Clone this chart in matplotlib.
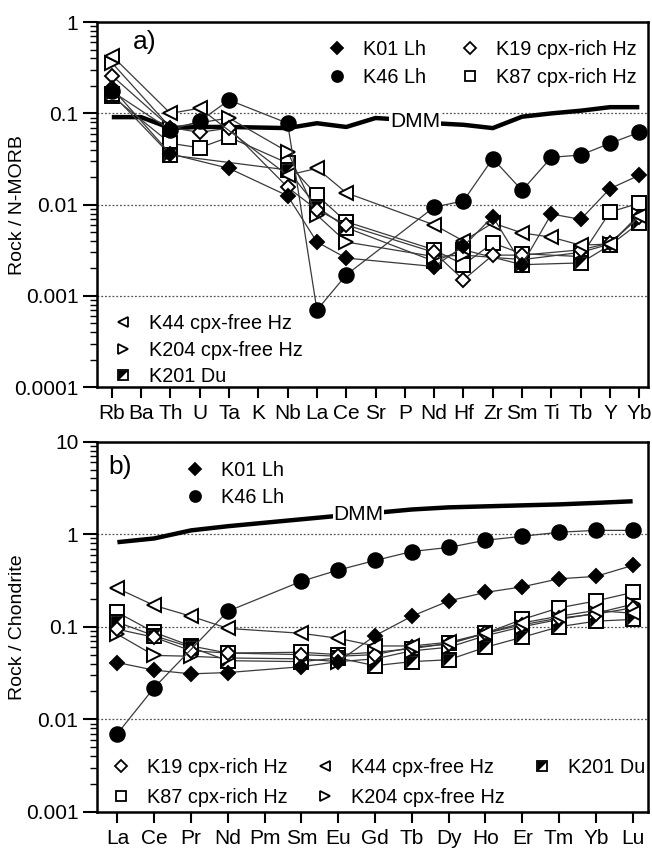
import numpy as np
import matplotlib
matplotlib.use('Agg')
import matplotlib.pyplot as plt
from matplotlib.lines import Line2D
from matplotlib.legend_handler import HandlerTuple

plt.rcParams['font.family'] = ['Liberation Sans', 'DejaVu Sans']

nan = np.nan

# a) N-MORB normalised
elems_a = ['Rb', 'Ba', 'Th', 'U', 'Ta', 'K', 'Nb', 'La', 'Ce', 'Sr', 'P',
           'Nd', 'Hf', 'Zr', 'Sm', 'Ti', 'Tb', 'Y', 'Yb']
k01_a = [0.19, nan, 0.036, nan, 0.025, nan, 0.0125, 0.0039, 0.0026, nan, nan,
         0.0021, 0.0035, 0.0074, 0.0022, 0.0079, 0.0069, 0.015, 0.021]
k46_a = [0.175, nan, 0.066, 0.082, 0.14, nan, 0.078, 0.0007, 0.0017, nan, nan,
         0.0094, 0.011, 0.032, 0.0143, 0.033, 0.035, 0.047, 0.062]
k19_a = [0.26, nan, 0.07, 0.062, 0.069, nan, 0.0155, 0.0088, 0.006, nan, nan,
         0.003, 0.0015, 0.0028, 0.0028, nan, 0.0032, 0.0038, 0.0073]
k87_a = [0.155, nan, 0.047, 0.042, 0.055, nan, 0.0285, 0.0127, 0.0065, nan, nan,
         0.0032, 0.0022, 0.0038, 0.0029, nan, 0.0027, 0.0083, 0.0104]
k44_a = [0.43, nan, 0.1, 0.114, nan, nan, 0.021, 0.025, 0.0135, nan, nan,
         0.006, 0.004, 0.0063, 0.0049, 0.0044, 0.0036, 0.0037, 0.0075]
k204_a = [0.36, nan, 0.07, nan, 0.089, nan, 0.038, 0.0077, 0.0039, nan, nan,
          0.0027, 0.0028, nan, 0.0025, nan, 0.003, 0.0037, 0.0078]
k201_a = [0.165, nan, 0.035, nan, nan, nan, 0.024, 0.0095, 0.0056, nan, nan,
          0.0024, 0.0032, nan, 0.0022, nan, 0.0023, 0.0036, 0.0063]
dmm_a = [0.091, 0.091, 0.069, 0.071, 0.071, 0.07, 0.069, 0.078, 0.071, 0.089,
         0.085, 0.078, 0.075, 0.069, 0.092, 0.10, 0.107, 0.117, 0.117]

# b) chondrite normalised REE
elems_b = ['La', 'Ce', 'Pr', 'Nd', 'Pm', 'Sm', 'Eu', 'Gd', 'Tb', 'Dy', 'Ho',
           'Er', 'Tm', 'Yb', 'Lu']
k01_b = [0.041, 0.034, 0.031, 0.032, nan, 0.037, 0.042, 0.08, 0.13, 0.19,
         0.235, 0.27, 0.33, 0.35, 0.46]
k46_b = [0.007, 0.022, nan, 0.147, nan, 0.31, 0.41, 0.52, 0.65, 0.72, 0.86,
         0.95, 1.05, 1.1, 1.1]
k19_b = [0.094, 0.077, 0.055, 0.052, nan, 0.05, 0.048, 0.05, 0.06, 0.065,
         0.085, 0.105, 0.124, 0.137, 0.16]
k87_b = [0.143, 0.087, 0.062, 0.052, nan, 0.053, 0.05, 0.053, 0.058, 0.066,
         0.085, 0.12, 0.16, 0.19, 0.235]
k44_b = [0.26, 0.17, 0.13, 0.096, nan, 0.085, 0.075, 0.062, 0.062, 0.068,
         0.085, 0.11, 0.13, 0.15, 0.14]
k204_b = [0.083, 0.049, 0.048, 0.046, nan, 0.045, 0.042, 0.045, 0.055, 0.06,
          0.08, 0.10, 0.12, 0.14, 0.175]
k201_b = [0.112, 0.08, 0.06, 0.043, nan, 0.042, 0.046, 0.038, 0.042, 0.044,
          0.06, 0.077, 0.10, 0.115, 0.12]
dmm_b = [0.82, 0.9, 1.1, 1.22, 1.33, 1.45, 1.58, 1.7, 1.85, 1.95, 2.0, 2.05,
         2.1, 2.18, 2.27]

LINE_C = '#3a3a3a'
MS = 10.5
FS = 15
# upper-left half triangle for the K201 symbol
HALF = [(-1, -1), (-1, 1), (1, 1), (-1, -1)]

STYLES = {
    'K01 Lh': dict(marker='D', ms=MS * 0.72, mfc='black', mec='black'),
    'K46 Lh': dict(marker='o', ms=MS, mfc='black', mec='black'),
    'K19 cpx-rich Hz': dict(marker='D', ms=MS * 0.72, mfc='white', mec='black'),
    'K87 cpx-rich Hz': dict(marker='s', ms=MS * 0.95, mfc='white', mec='black'),
    'K44 cpx-free Hz': dict(marker='<', ms=MS, mfc='white', mec='black'),
    'K204 cpx-free Hz': dict(marker='>', ms=MS, mfc='white', mec='black'),
    'K201 Du': dict(marker='s', ms=MS * 0.95, mfc='white', mec='black'),
}
TUPLE_MAP = {tuple: HandlerTuple(ndivide=1)}


def draw_series(ax, vals, name, z):
    x = np.arange(len(vals))
    v = np.array(vals, dtype=float)
    ok = ~np.isnan(v)
    st = STYLES[name]
    ax.plot(x[ok], v[ok], color=LINE_C, lw=0.9, mew=1.4, zorder=z, **st)
    if name == 'K201 Du':
        ax.plot(x[ok], v[ok], ls='none', marker=HALF, ms=st['ms'] * 0.92,
                mfc='black', mec='none', zorder=z + 0.1)


def handle(name):
    st = STYLES[name]
    h = Line2D([], [], ls='none', mew=1.3, **st)
    if name == 'K201 Du':
        tri = Line2D([], [], ls='none', marker=HALF, ms=st['ms'] * 0.92,
                     mfc='black', mec='none')
        return (h, tri)
    return h


def style_axis(ax, labels, ylim, ylabel):
    ax.set_yscale('log')
    ax.set_ylim(*ylim)
    ax.set_xticks(np.arange(len(labels)))
    ax.set_xticklabels(labels)
    ax.tick_params(axis='x', which='both', direction='out', length=8,
                   width=1.5, labelsize=FS, pad=4, top=False)
    ax.tick_params(axis='y', which='major', direction='out', length=10,
                   width=1.5, labelsize=FS, right=False)
    ax.tick_params(axis='y', which='minor', direction='out', length=5,
                   width=1.0, right=False)
    ax.yaxis.set_major_formatter(
        matplotlib.ticker.FuncFormatter(lambda v, p: f'{v:g}'))
    for s in ax.spines.values():
        s.set_linewidth(1.8)
    ax.grid(axis='y', which='major', ls=(0, (1.5, 1.5)), color='#555555',
            lw=0.9)
    ax.set_axisbelow(True)
    ax.set_ylabel(ylabel, fontsize=14)


fig = plt.figure(figsize=(6.52, 8.51), dpi=100)
ax1 = fig.add_axes([0.149, 0.545, 0.845, 0.429])
ax2 = fig.add_axes([0.149, 0.046, 0.845, 0.435])

series_a = [('K87 cpx-rich Hz', k87_a), ('K201 Du', k201_a),
            ('K204 cpx-free Hz', k204_a), ('K19 cpx-rich Hz', k19_a),
            ('K44 cpx-free Hz', k44_a), ('K01 Lh', k01_a), ('K46 Lh', k46_a)]
series_b = [('K87 cpx-rich Hz', k87_b), ('K201 Du', k201_b),
            ('K204 cpx-free Hz', k204_b), ('K19 cpx-rich Hz', k19_b),
            ('K44 cpx-free Hz', k44_b), ('K01 Lh', k01_b), ('K46 Lh', k46_b)]

leg_kw = dict(frameon=False, fontsize=14.3, markerscale=0.75,
              handlelength=1.2, handletextpad=0.7,
              handler_map=TUPLE_MAP)

# ---- panel a
ax1.plot(np.arange(len(dmm_a)), dmm_a, color='black', lw=3.2, zorder=2,
         solid_capstyle='butt')
ax1.text(10.35, 0.082, 'DMM', fontsize=15, ha='center', va='center',
         zorder=2.5, bbox=dict(fc='white', ec='none', pad=0.5))
for i, (name, vals) in enumerate(series_a):
    draw_series(ax1, vals, name, 3 + i)
style_axis(ax1, elems_a, (1e-4, 1), 'Rock / N-MORB')
ax1.set_xlim(-0.5, 18.3)
ax1.text(0.065, 0.945, 'a)', transform=ax1.transAxes, fontsize=19,
         ha='left', va='center')

names_top = ['K01 Lh', 'K46 Lh', 'K19 cpx-rich Hz', 'K87 cpx-rich Hz']
leg = ax1.legend([handle(n) for n in names_top], names_top, ncol=2,
                 loc='upper right', bbox_to_anchor=(1.0, 0.985),
                 columnspacing=1.6, borderaxespad=0.2, labelspacing=0.5,
                 **leg_kw)
ax1.add_artist(leg)
names_bl = ['K44 cpx-free Hz', 'K204 cpx-free Hz', 'K201 Du']
ax1.legend([handle(n) for n in names_bl], names_bl, loc='lower left',
           bbox_to_anchor=(0.0, -0.035), borderaxespad=0.3,
           labelspacing=0.38, **leg_kw)

# ---- panel b
ax2.plot(np.arange(len(dmm_b)), dmm_b, color='black', lw=3.2, zorder=2,
         solid_capstyle='butt')
ax2.text(6.55, 1.62, 'DMM', fontsize=15, ha='center', va='center',
         zorder=2.5, bbox=dict(fc='white', ec='none', pad=0.5))
for i, (name, vals) in enumerate(series_b):
    draw_series(ax2, vals, name, 3 + i)
style_axis(ax2, elems_b, (1e-3, 10), 'Rock / Chondrite')
ax2.set_xlim(-0.55, 14.42)
ax2.text(0.02, 0.932, 'b)', transform=ax2.transAxes, fontsize=19,
         ha='left', va='center')

names_b1 = ['K01 Lh', 'K46 Lh']
leg2 = ax2.legend([handle(n) for n in names_b1], names_b1, loc='upper left',
                  bbox_to_anchor=(0.135, 0.98), borderaxespad=0.2,
                  labelspacing=0.4, **leg_kw)
ax2.add_artist(leg2)
names_b2 = ['K19 cpx-rich Hz', 'K87 cpx-rich Hz', 'K44 cpx-free Hz',
            'K204 cpx-free Hz', 'K201 Du']
ax2.legend([handle(n) for n in names_b2], names_b2, ncol=3, loc='lower left',
           bbox_to_anchor=(0.0, -0.02), columnspacing=1.3, borderaxespad=0.2,
           labelspacing=0.55, **leg_kw)

for ax in (ax1, ax2):
    ax.yaxis.set_label_coords(-0.13, 0.5)

fig.savefig('out.png', dpi=100)
